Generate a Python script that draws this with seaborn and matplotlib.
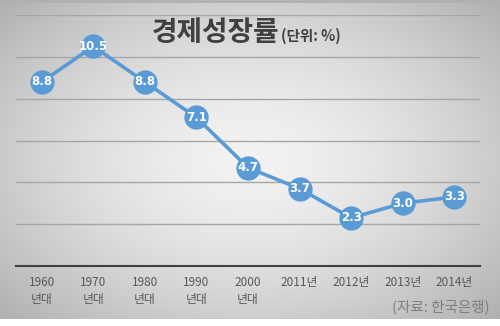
import numpy as np
import pandas as pd
import matplotlib
matplotlib.use("Agg")
import matplotlib.pyplot as plt
import seaborn as sns

categories = ["1960\n년대", "1970\n년대", "1980\n년대", "1990\n년대", "2000\n년대",
              "2011년", "2012년", "2013년", "2014년"]
growth = [8.8, 10.5, 8.8, 7.1, 4.7, 3.7, 2.3, 3.0, 3.3]
title_main = "경제성장률"
title_unit = "(단위: %)"
source = "(자료: 한국은행)"

sns.set_theme(style="white")
plt.rcParams['font.family'] = ['Noto Sans CJK KR', 'DejaVu Sans']

W, H = 500, 326
fig = plt.figure(figsize=(W / 100, H / 100), dpi=100)

# gradient background
bg = fig.add_axes([0, 7 / H, 1, 319 / H], zorder=-10)
yy, xx = np.mgrid[-1:1:200j, -1:1:300j]
r = np.sqrt((xx * 0.95) ** 2 + (yy * 0.9) ** 2)
val = 0.95 - 0.17 * np.clip(r, 0, 1.4) ** 1.6
bg.imshow(np.dstack([val, val, val]), aspect="auto", extent=[0, 1, 0, 1], interpolation="bilinear")
bg.plot([0, 1], [0.997, 0.997], color="#b0b0b0", lw=2, transform=bg.transAxes)
bg.set_axis_off()

ax = fig.add_axes([16 / W, (H - 266) / H, 464 / W, 251 / H])
ax.patch.set_alpha(0)
df = pd.DataFrame({"cat": categories, "val": growth})
x = np.arange(len(categories))
sns.lineplot(x=x, y=df["val"], ax=ax, color="#5b9bd5", lw=2.6,
             marker="o", markersize=17.5, markeredgewidth=0, zorder=3)
for xi, v in zip(x, growth):
    ax.text(xi, v, f"{v:.1f}", ha="center", va="center", color="white",
            fontsize=8.5, fontweight="bold", zorder=5, family="DejaVu Sans")

ax.set_xlim(-0.5, len(categories) - 0.5)
ax.set_ylim(0, 12)
ax.set_yticks([2, 4, 6, 8, 10, 12])
ax.yaxis.grid(True, color="#a6a6a6", lw=1)
ax.set_yticklabels([])
ax.tick_params(axis="y", length=0)
ax.set_xticks(x)
ax.set_xticklabels(categories, fontsize=8.5, color="#595959", linespacing=1.45, va="top")
ax.tick_params(axis="x", length=0, pad=7)
for s in ["top", "right", "left"]:
    ax.spines[s].set_visible(False)
ax.spines["bottom"].set_color("#404040")
ax.spines["bottom"].set_linewidth(1.5)
ax.set_xlabel("")
ax.set_ylabel("")

fig.text(152 / W, 1 - 33 / H, title_main, fontsize=20, fontweight="bold",
         color="#404040", ha="left", va="center")
fig.text(281 / W, 1 - 36 / H, title_unit, fontsize=10.5, fontweight="bold",
         color="#404040", ha="left", va="center")
fig.text(490 / W, 1 - 307 / H, source, fontsize=10.5, fontweight="medium", color="#7f7f7f",
         ha="right", va="center")

fig.savefig("out.png", dpi=100)
